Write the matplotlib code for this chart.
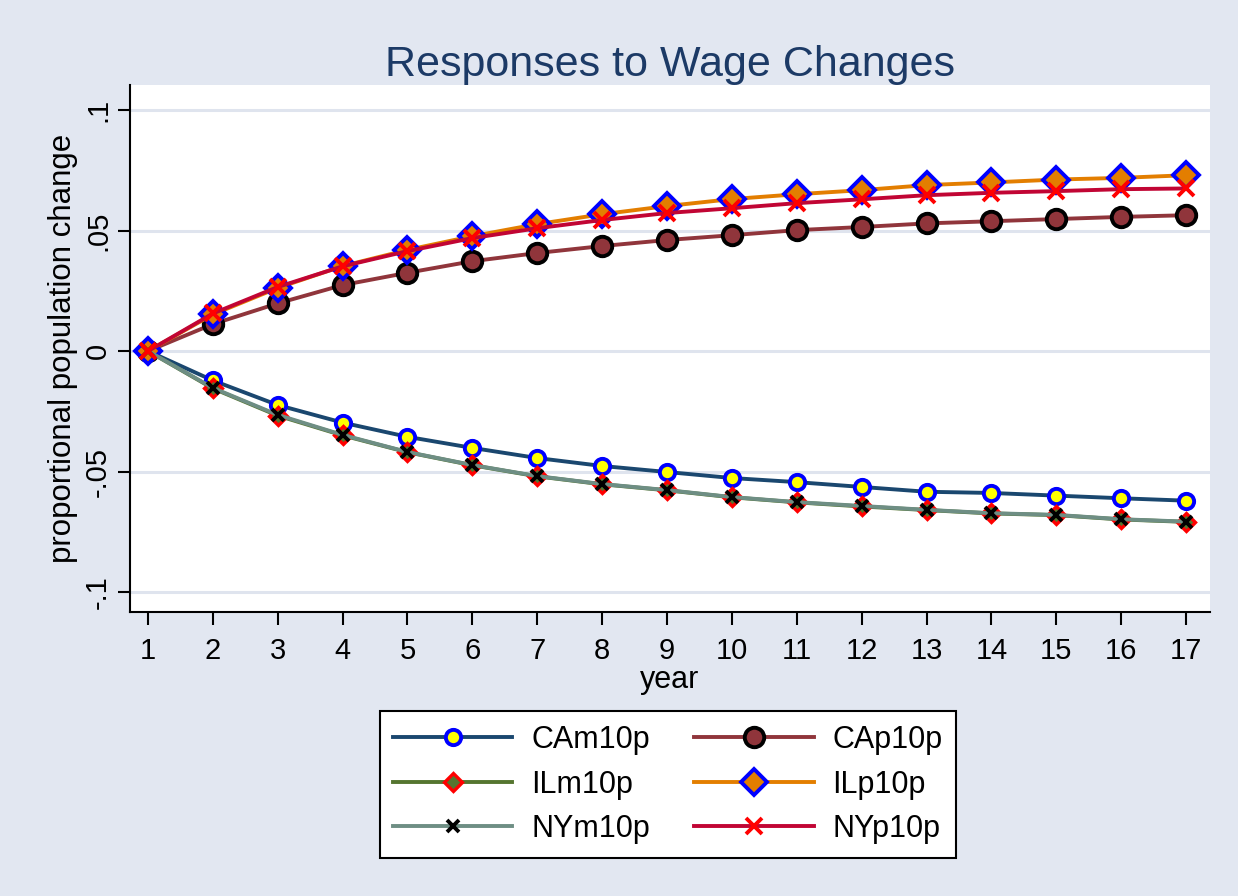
import matplotlib.pyplot as plt

plt.rcParams["font.family"] = ["Liberation Sans", "DejaVu Sans"]

years = list(range(1, 18))

ca_m10p = [0, -0.0122, -0.0224, -0.0297, -0.0356, -0.0402, -0.0444, -0.0477, -0.0502,
           -0.0527, -0.0544, -0.0564, -0.0584, -0.0589, -0.0600, -0.0611, -0.0621]
ca_p10p = [0, 0.0112, 0.0198, 0.0274, 0.0325, 0.0373, 0.0407, 0.0436, 0.0461,
           0.0481, 0.0502, 0.0515, 0.0530, 0.0539, 0.0548, 0.0557, 0.0564]
il_m10p = [0, -0.0155, -0.0268, -0.0350, -0.0420, -0.0474, -0.0520, -0.0553, -0.0578,
           -0.0607, -0.0628, -0.0645, -0.0660, -0.0674, -0.0681, -0.0699, -0.0709]
il_p10p = [0, 0.0152, 0.0262, 0.0353, 0.0420, 0.0477, 0.0527, 0.0568, 0.0602,
           0.0631, 0.0651, 0.0668, 0.0689, 0.0700, 0.0712, 0.0719, 0.0730]
ny_m10p = [0, -0.0153, -0.0265, -0.0348, -0.0419, -0.0473, -0.0519, -0.0552, -0.0577,
           -0.0606, -0.0627, -0.0643, -0.0659, -0.0673, -0.0680, -0.0698, -0.0708]
ny_p10p = [0, 0.0156, 0.0266, 0.0352, 0.0415, 0.0469, 0.0510, 0.0544, 0.0573,
           0.0593, 0.0614, 0.0630, 0.0647, 0.0657, 0.0664, 0.0672, 0.0675]

y_ticks = [-0.1, -0.05, 0, 0.05, 0.1]
y_tick_labels = ["-.1", "-.05", "0", ".05", ".1"]

bg = "#E2E7F1"

fig = plt.figure(figsize=(12.38, 8.96), dpi=100, facecolor=bg)
ax = fig.add_axes([0.105, 0.317, 0.8724, 0.588])
ax.set_facecolor("white")

for y in y_ticks:
    ax.axhline(y, color="#DFE4EE", lw=2.2, zorder=0)

lw = 2.8
ax.plot(years, ca_m10p, color="#1A476F", lw=lw, marker="o", ms=11,
        mfc="yellow", mec="blue", mew=2.8, label="CAm10p")
ax.plot(years, ca_p10p, color="#90353B", lw=lw, marker="o", ms=14,
        mfc="#90353B", mec="black", mew=2.8, label="CAp10p")
ax.plot(years, il_m10p, color="#55752F", lw=lw, marker="D", ms=9,
        mfc="#55752F", mec="red", mew=2.4, label="ILm10p")
ax.plot(years, il_p10p, color="#E37E00", lw=lw, marker="D", ms=13,
        mfc="#E37E00", mec="blue", mew=2.8, label="ILp10p")
ax.plot(years, ny_m10p, color="#6E8E84", lw=lw, marker="x", ms=8,
        mec="black", mew=2.8, label="NYm10p")
ax.plot(years, ny_p10p, color="#C10534", lw=lw, marker="x", ms=11,
        mec="red", mew=2.8, label="NYp10p")

ax.set_xlim(0.7225, 17.37)
ax.set_ylim(-0.1083, 0.1104)
ax.set_xticks(years)
ax.set_yticks(y_ticks)
ax.set_yticklabels(y_tick_labels, rotation=90, va="center")

for s in ["top", "right"]:
    ax.spines[s].set_visible(False)
for s in ["left", "bottom"]:
    ax.spines[s].set_linewidth(1.5)
    ax.spines[s].set_color("black")
ax.tick_params(axis="both", labelsize=21, length=9, width=1.5, direction="out")
ax.tick_params(axis="x", pad=9)
ax.tick_params(axis="y", pad=4)

ax.set_xlabel("year", fontsize=22, labelpad=0)
ax.set_ylabel("proportional population change", fontsize=22.5, labelpad=4)
ax.set_title("Responses to Wage Changes", fontsize=31, color="#1C3A66", pad=6)

handles, labels = ax.get_legend_handles_labels()
order = [0, 2, 4, 1, 3, 5]
leg = fig.legend([handles[i] for i in order], [labels[i] for i in order],
                 loc="center", bbox_to_anchor=(0.5396, 0.1244), ncol=2,
                 fontsize=22, frameon=True, fancybox=False, edgecolor="black",
                 facecolor="white", framealpha=1,
                 handlelength=3.9, columnspacing=1.45, labelspacing=0.47,
                 borderpad=0.45, handletextpad=0.62, borderaxespad=0)
leg.get_frame().set_linewidth(1.5)

fig.savefig("out.png", dpi=100, facecolor=bg)
